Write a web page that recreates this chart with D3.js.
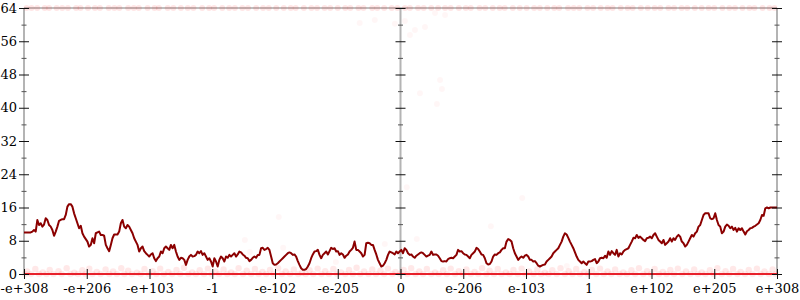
<!DOCTYPE html>
<html>
<head>
<meta charset="utf-8">
<script src="https://cdn.jsdelivr.net/npm/d3@7"></script>
<style>
  body { margin: 0; background: #fff; }
  svg { display: block; font-family: "DejaVu Serif", serif; }
</style>
</head>
<body>
<div id="chart"></div>
<script>
// tick labels along the bottom (one per tick index 0..12)
const xLabels = ["-e+308", "-e+206", "-e+103", "-1", "-e-102", "-e-205", "0",
                 "e-206", "e-103", "1", "e+102", "e+205", "e+308"];
const yMajor = [0, 8, 16, 24, 32, 40, 48, 56, 64];
const yMinor = [4, 12, 20, 28, 36, 44, 52, 60];
const axisAt = [0, 6, 12]; // vertical axes: left, middle, right

// running trend, evenly spaced from x=0 to x=12
const trend = [
  10.0,10.0,10.0,10.0,10.0,10.2,10.6,10.2,13.0,11.8,
  12.2,11.4,11.9,13.4,13.0,11.8,11.4,10.6,9.2,10.2,
  11.4,12.8,13.0,13.2,13.2,14.2,16.2,16.8,16.8,16.2,
  14.6,13.4,12.2,11.0,11.6,9.8,9.0,8.4,7.8,6.6,
  7.0,8.6,7.4,9.8,10.0,10.2,9.4,9.4,9.2,7.0,
  6.2,5.5,7.0,8.6,9.5,9.5,9.5,10.2,12.2,13.0,
  11.4,11.0,11.8,11.4,10.6,9.8,8.6,7.8,7.0,5.4,
  6.2,6.6,5.5,5.0,4.6,4.2,4.7,5.0,3.8,3.1,
  3.8,4.2,5.4,5.0,6.2,6.6,6.2,5.8,7.0,6.2,
  7.0,5.4,4.2,3.4,3.9,3.8,3.4,2.2,3.4,4.2,
  4.6,4.2,4.3,4.6,5.4,5.0,5.5,4.6,5.0,4.2,
  3.4,3.8,
  3.0,1.8,3.8,3.0,1.8,3.4,4.2,3.8,3.0,4.2,
  3.9,4.6,4.2,4.6,5.0,4.2,4.7,5.4,5.2,4.7,
  4.4,3.9,3.8,3.1,3.4,3.9,4.2,3.9,4.6,4.6,
  6.2,6.3,5.8,6.0,6.3,5.8,4.2,2.6,2.2,2.3,
  2.6,3.0,3.4,3.8,4.2,4.6,5.0,5.2,5.0,4.6,
  4.7,4.2,3.1,2.2,1.4,1.0,1.0,1.2,1.8,2.6,
  3.8,4.7,5.4,5.5,5.8,4.6,3.8,4.6,5.0,5.4,
  4.7,5.5,6.3,6.0,6.2,5.4,5.5,4.6,5.0,4.7,
  3.9,4.4,4.7,5.4,5.8,6.3,7.8,5.8,5.8,5.4,
  5.0,4.2,4.6,7.4,7.5,7.4,7.0,7.0,5.8,4.7,
  3.4,2.6,1.8,2.0,2.6,3.4,4.6,5.4,5.2,5.0,
  4.7,5.4,5.0,
  5.4,5.8,5.0,6.2,5.8,5.0,4.6,4.7,4.2,3.9,
  4.4,4.7,5.0,5.2,5.0,4.6,4.2,4.4,4.6,5.4,
  4.6,4.7,4.7,4.4,3.8,3.1,3.0,3.1,3.0,3.6,
  3.8,3.9,3.8,4.2,4.6,5.8,5.4,5.5,5.0,4.7,
  4.6,4.2,3.8,4.6,5.0,5.4,6.3,6.0,5.4,4.7,
  4.6,3.8,2.6,2.3,2.4,3.0,4.2,4.7,4.6,5.0,
  5.2,5.8,6.2,6.2,7.8,8.4,8.2,7.8,6.2,5.0,
  4.2,3.4,3.9,4.2,3.9,4.4,4.6,4.2,3.4,3.4,
  3.0,3.1,2.6,2.0,1.8,2.0,2.2,2.3,3.0,3.4,
  3.8,4.2,5.0,5.4,5.8,6.2,7.0,7.8,9.0,9.8,
  9.5,8.7,7.8,7.0,6.2,5.2,4.2,3.4,3.0,2.6,
  3.0,2.6,2.2,3.0,
  3.0,3.1,3.4,3.6,2.6,3.0,3.8,3.9,3.8,4.4,
  3.9,5.4,4.6,5.5,5.0,4.6,5.8,4.2,5.0,4.7,
  5.4,5.8,6.0,6.2,7.0,7.8,8.7,8.6,9.4,8.7,
  9.0,8.6,8.2,7.9,8.6,8.7,9.0,8.6,9.4,9.8,
  9.0,8.2,7.8,7.4,8.2,7.0,7.4,7.8,8.6,7.8,
  8.6,8.2,9.0,9.4,9.0,7.8,7.4,6.6,7.0,7.8,
  8.6,9.4,9.0,9.8,10.2,11.4,11.8,13.0,14.2,14.6,
  14.6,14.6,13.4,13.2,13.4,14.6,13.0,11.8,11.4,9.8,
  10.2,11.4,11.9,11.6,11.0,11.4,10.6,11.1,10.2,11.0,
  10.6,11.0,10.2,9.5,10.3,10.6,11.0,11.1,11.4,11.6,
  11.9,12.2,13.0,14.2,14.0,15.8,16.0,15.8,16.0,16.0,
  16.0,16.0,16.0
];

// the samples that sit at zero cover the whole range
const zeroRun = [0, 12];

// individual samples at zero
const zeroX = [
  0.02,0.11,0.24,0.36,0.47,0.6,0.74,0.86,0.98,1.09,1.22,1.36,1.48,1.6,1.72,1.86,1.99,2.11,
  2.23,2.36,2.49,2.62,2.74,2.87,2.99,3.11,3.24,3.36,3.49,3.62,3.74,3.86,3.98,4.11,4.24,4.37,
  4.49,4.61,4.74,4.86,4.99,5.12,5.24,5.36,5.49,5.61,5.74,5.87,5.99,6.11,6.24,6.36,6.49,6.61,
  6.74,6.87,6.99,7.12,7.24,7.37,7.49,7.61,7.74,7.87,7.99,8.12,8.24,8.36,8.49,8.62,8.74,8.86,
  8.99,9.12,9.24,9.36,9.49,9.61,9.74,9.87,9.99,10.12,10.24,10.36,10.49,10.62,10.74,10.86,
  10.99,11.12,11.24,11.37,11.49,11.61,11.74,11.87,11.98
];

// samples just above zero
const nearZero = [
  [0.05,0.6],[0.18,1.2],[0.3,0.4],[0.41,1.0],[0.55,0.7],[0.68,1.4],[0.8,0.3],[0.93,0.9],
  [1.04,1.3],[1.16,0.5],[1.3,1.1],[1.42,0.6],[1.55,1.4],[1.66,0.8],[1.8,0.3],[1.92,1.2],
  [2.05,0.7],[2.17,1.3],[2.3,0.5],[2.43,1.0],[2.55,1.5],[2.68,0.4],[2.8,0.9],[2.93,1.3],
  [3.05,0.6],[3.18,1.1],[3.3,0.4],[3.42,1.4],[3.55,0.8],[3.68,1.2],[3.8,0.5],[3.92,1.0],
  [4.05,1.4],[4.17,0.6],[4.3,1.1],[4.43,0.3],[4.55,0.9],[4.68,1.3],[4.8,0.7],[4.93,1.2],
  [5.05,0.4],[5.18,1.0],[5.3,1.5],[5.42,0.6],[5.55,1.1],[5.68,0.8],[5.8,1.3],[5.92,0.5],
  [6.05,1.0],[6.17,1.4],[6.3,0.6],[6.42,1.2],[6.55,0.4],[6.68,0.9],[6.8,1.3],[6.93,0.7],
  [7.05,1.1],[7.18,0.5],[7.3,1.4],[7.42,0.8],[7.55,1.2],[7.68,0.4],[7.8,1.0],[7.93,1.3],
  [8.05,0.6],[8.18,1.1],[8.3,0.3],[8.42,0.9],[8.55,1.4],[8.68,0.7],[8.8,1.2],[8.93,0.5],
  [9.05,1.0],[9.18,1.3],[9.3,0.6],[9.42,1.1],[9.55,0.4],[9.68,0.9],[9.8,1.4],[9.93,0.7],
  [10.05,1.2],[10.18,0.5],[10.3,1.0],[10.42,1.3],[10.55,0.6],[10.68,1.1],[10.8,0.4],[10.93,0.9],
  [11.05,1.4],[11.18,0.7],[11.3,1.2],[11.42,0.5],[11.55,1.0],[11.68,1.3],[11.8,0.6],[11.93,1.1]
];

// samples at the ceiling (64)
const topX = [
  0.04,0.12,0.21,0.33,0.4,0.52,0.61,0.7,0.83,0.9,1.02,1.13,1.21,1.35,1.44,1.52,1.66,1.75,
  1.83,1.97,2.08,2.15,2.29,2.38,2.5,2.61,2.7,2.84,2.95,3.03,3.16,3.27,3.36,3.48,3.57,3.7,
  3.81,3.9,4.02,4.14,4.25,4.33,4.46,4.58,4.67,4.79,4.88,5.0,5.12,5.2,5.33,5.41,5.55,5.63,
  5.74,5.86,5.95,6.07,6.15,6.28,6.37,6.49,6.6,6.71,6.8,6.93,7.04,7.12,7.26,7.35,7.47,7.58,
  7.66,7.79,7.9,8.01,8.13,8.22,8.34,8.45,8.53,8.67,8.76,8.85,8.98,9.07,9.19,9.3,9.38,9.51,
  9.62,9.7,9.83,9.94,10.05,10.14,10.27,10.36,10.48,10.57,10.69,10.8,10.91,11.0,11.13,11.24,
  11.33,11.45,11.56,11.64,11.77,11.88,11.96
];

// a few stray samples in between
const strays = [
  [3.52,8.2],[3.6,5.3],[4.06,13.7],[4.13,6.3],[4.97,2.9],[5.75,7.2],[5.59,61.1],[5.91,60.2],
  [6.07,60.9],[6.1,20.9],[6.15,57.5],[6.23,58.7],[6.26,8.4],[6.39,59.4],[6.55,62.8],[6.63,46.7],
  [6.31,43.5],[6.58,40.9],[6.66,44.5],[6.71,62.3],[5.35,60.4],[7.44,11.5],[7.94,18.3],[8.65,1.9]
];

const width = 800;
const height = 300;
const margin = {top: 8, right: 23, bottom: 26, left: 24};

const x = d3.scaleLinear()
  .domain([0, 12])
  .range([margin.left, width - margin.right]);

const y = d3.scaleLinear()
  .domain([0, 64])
  .range([height - margin.bottom, margin.top]);

const svg = d3.select("#chart").append("svg")
  .attr("width", width)
  .attr("height", height)
  .attr("viewBox", [0, 0, width, height]);

// gray frame: vertical axes and the top edge
svg.append("g")
  .selectAll("line")
  .data(axisAt)
  .join("line")
    .attr("x1", d => x(d)).attr("x2", d => x(d))
    .attr("y1", y(0)).attr("y2", y(64))
    .attr("stroke", "#b4b4b4")
    .attr("stroke-width", 2);

svg.append("line")
  .attr("x1", x(0)).attr("x2", x(12))
  .attr("y1", y(64)).attr("y2", y(64))
  .attr("stroke", "#a8a8a8")
  .attr("stroke-width", 1.5);

// sample points
const pts = svg.append("g").attr("fill", "#ff0000");

pts.selectAll(".zero")
  .data(zeroX)
  .join("circle")
    .attr("class", "zero")
    .attr("cx", d => x(d))
    .attr("cy", y(0))
    .attr("r", 3.2)
    .attr("fill-opacity", 0.08);

pts.selectAll(".near")
  .data(nearZero)
  .join("circle")
    .attr("class", "near")
    .attr("cx", d => x(d[0]))
    .attr("cy", d => y(d[1]))
    .attr("r", 3.2)
    .attr("fill-opacity", 0.09);

pts.selectAll(".top")
  .data(topX)
  .join("circle")
    .attr("class", "top")
    .attr("cx", d => x(d))
    .attr("cy", y(64))
    .attr("r", 3)
    .attr("fill-opacity", 0.1);

pts.selectAll(".stray")
  .data(strays)
  .join("circle")
    .attr("class", "stray")
    .attr("cx", d => x(d[0]))
    .attr("cy", d => y(d[1]))
    .attr("r", 3)
    .attr("fill-opacity", 0.035);

svg.append("line")
  .attr("x1", x(zeroRun[0])).attr("x2", x(zeroRun[1]))
  .attr("y1", y(0)).attr("y2", y(0))
  .attr("stroke", "#e8202a")
  .attr("stroke-width", 2.2);

// trend line
const step = 12 / (trend.length - 1);
const line = d3.line()
  .x((d, i) => x(i * step))
  .y(d => y(d));

svg.append("path")
  .datum(trend)
  .attr("fill", "none")
  .attr("stroke", "#8b0000")
  .attr("stroke-width", 2)
  .attr("stroke-linejoin", "round")
  .attr("d", line);

// vertical axes ticks (labels only on the left one)
axisAt.forEach(pos => {
  const g = svg.append("g")
    .attr("transform", `translate(${x(pos)},0)`)
    .style("font-family", "DejaVu Serif, serif")
    .style("font-size", "13px");

  g.call(d3.axisLeft(y)
      .tickValues(yMajor)
      .tickSize(5)
      .tickPadding(2)
      .tickFormat(pos === 0 ? d3.format("d") : () => ""))
    .call(a => a.select(".domain").remove())
    .call(a => a.selectAll("line").attr("x1", 5).attr("stroke", "#111"))
    .call(a => a.selectAll("text").attr("fill", "#000").attr("font-family", null).attr("font-size", null));

  svg.append("g")
    .attr("transform", `translate(${x(pos)},0)`)
    .call(d3.axisLeft(y).tickValues(yMinor).tickSize(2.5).tickFormat(() => ""))
    .call(a => a.select(".domain").remove())
    .call(a => a.selectAll("line").attr("x1", 2.5).attr("stroke", "#555"));
});

// bottom axis
svg.append("g")
  .attr("transform", `translate(0,${y(0)})`)
  .style("font-family", "DejaVu Serif, serif")
  .style("font-size", "13px")
  .call(d3.axisBottom(x)
    .tickValues(xLabels.map((_, i) => i))
    .tickSize(5)
    .tickPadding(5)
    .tickFormat(i => xLabels[i]))
  .call(a => a.select(".domain").remove())
  .call(a => a.selectAll("line").attr("y1", -5).attr("stroke", "#111"))
  .call(a => a.selectAll("text").attr("fill", "#000").attr("font-family", null).attr("font-size", null));
</script>
</body>
</html>
